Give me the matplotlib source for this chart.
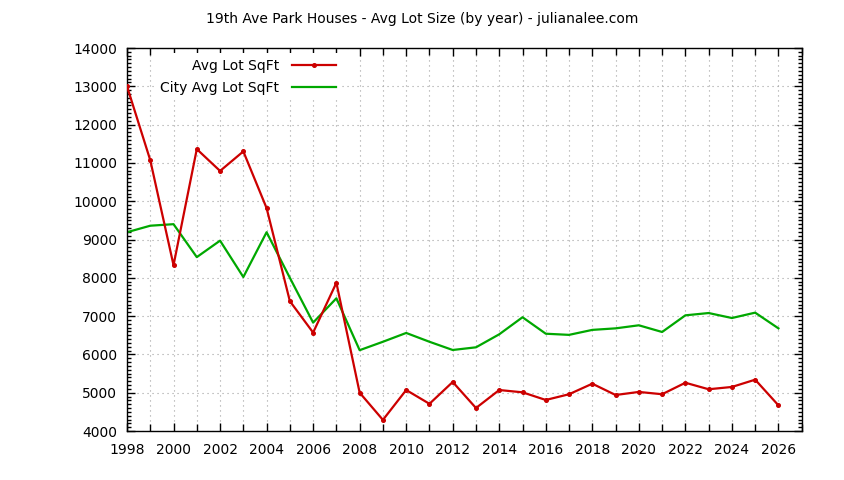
import matplotlib
matplotlib.use('Agg')
import matplotlib.pyplot as plt
from matplotlib.ticker import MultipleLocator

years = list(range(1998, 2027))

# Avg lot size for 19th Ave Park houses (sq ft)
lot_sqft = [13000, 11070, 8330, 11360, 10790, 11300, 9820, 7390, 6570, 7870,
            5000, 4290, 5070, 4710, 5280, 4600, 5070, 5010, 4810, 4960,
            5235, 4940, 5020, 4960, 5260, 5090, 5150, 5340, 4670]

# City-wide average lot size (sq ft)
city_sqft = [9190, 9360, 9400, 8540, 8970, 8020, 9190, 8000, 6830, 7465,
             6110, 6330, 6560, 6330, 6115, 6185, 6525, 6970, 6540, 6510,
             6640, 6680, 6760, 6585, 7020, 7080, 6950, 7090, 6680]

title = '19th Ave Park Houses - Avg Lot Size (by year) - julianalee.com'

plt.rcParams['font.family'] = ['DejaVu Sans']
plt.rcParams['font.size'] = 10

fig = plt.figure(figsize=(8.44, 4.8), dpi=100)
ax = fig.add_axes([127 / 844, 1 - 431 / 480, (801.7 - 127) / 844, (431 - 48) / 480])

ax.plot(years, lot_sqft, color='#cc0000', lw=1.6, marker='o', ms=2.6,
        label='Avg Lot SqFt', zorder=3)
ax.plot(years, city_sqft, color='#00a800', lw=1.6, label='City Avg Lot SqFt', zorder=2)

ax.set_xlim(1998, 2027)
ax.set_ylim(4000, 14000)
ax.xaxis.set_major_locator(MultipleLocator(2))
ax.xaxis.set_minor_locator(MultipleLocator(1))
ax.yaxis.set_major_locator(MultipleLocator(1000))
ax.yaxis.set_minor_locator(MultipleLocator(100))

ax.tick_params(which='both', direction='in', top=True, right=True, width=1, color='black')
ax.tick_params(axis='x', which='major', length=6, pad=9)
ax.tick_params(axis='x', which='minor', length=5)
ax.tick_params(axis='y', which='major', length=6, pad=7)
ax.tick_params(axis='y', which='minor', length=3)

ax.grid(True, axis='x', which='both', color='#a0a0a0', ls=(0, (1, 3.5)), lw=0.8)
ax.grid(True, axis='y', which='major', color='#a0a0a0', ls=(0, (1, 3.5)), lw=0.8)
ax.set_axisbelow(True)
for sp in ax.spines.values():
    sp.set_linewidth(1)

# key box is white so the grid doesn't show through it (gnuplot style)
leg = ax.legend(loc='upper right', bbox_to_anchor=(342 / 844, 1 - 53 / 480),
                bbox_transform=fig.transFigure, frameon=True, fancybox=False,
                facecolor='white', edgecolor='none', framealpha=1,
                markerfirst=False, numpoints=1, handlelength=3.2,
                handletextpad=0.9, labelspacing=0.6, borderpad=0.4,
                borderaxespad=0, fontsize=10)
leg.set_zorder(1)

fig.text(0.5, 1 - 19 / 480, title, ha='center', va='center', fontsize=10)

fig.savefig('out.png', dpi=100)
